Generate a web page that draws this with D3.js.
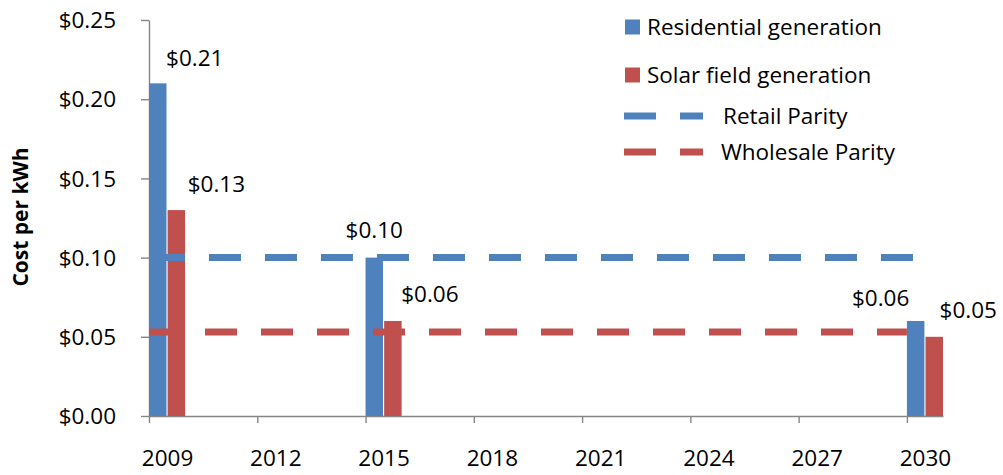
<!DOCTYPE html>
<html>
<head>
<meta charset="utf-8">
<script src="https://cdn.jsdelivr.net/npm/d3@7"></script>
<style>
  body { margin: 0; background: #fff; }
  text { font-family: "Open Sans", sans-serif; fill: #000; }
</style>
</head>
<body>
<script>
const width = 1003;
const height = 475;

// data
const years = [2009, 2015, 2030];
const residential = [0.21, 0.10, 0.06];
const solarField = [0.13, 0.06, 0.05];
const seriesNames = ["Residential generation", "Solar field generation"];
const parityNames = ["Retail Parity", "Wholesale Parity"];
const parityValues = [0.10, 0.053];
const parityStart = [2009.11, 2009];
const parityEnd = [2030.17, 2030];
const xTicks = [2009, 2012, 2015, 2018, 2021, 2024, 2027, 2030];
const yTicks = [0, 0.05, 0.1, 0.15, 0.2, 0.25];

const colors = ["#4F81BD", "#C0504D"];
const fontSize = "22.5px";
// hand placed data label nudges [dx, dy] relative to bar top center
const labelNudge = [
  [[37, -25], [40, -26]],
  [[0, -27], [37, -27]],
  [[-35, -23], [34, -27]]
];

const svg = d3.select("body").append("svg")
  .attr("width", width)
  .attr("height", height);

const x = d3.scaleLinear().domain([2009, 2031]).range([149, 943]);
const y = d3.scaleLinear().domain([0, 0.25]).range([416, 20]);
const yearW = x(2010) - x(2009);
const inner = d3.scaleBand().domain([0, 1]).range([0, yearW]).paddingInner(0.06);

// y axis
const yAxis = svg.append("g")
  .attr("transform", `translate(${x(2009)},0)`)
  .call(d3.axisLeft(y).tickValues(yTicks).tickSize(8).tickSizeOuter(0)
    .tickFormat(d => "$" + d.toFixed(2)));
yAxis.selectAll("text").style("font-size", fontSize).attr("x", -33).attr("dy", "0.34em");

// x axis
const xAxis = svg.append("g")
  .attr("transform", `translate(0,${y(0)})`)
  .call(d3.axisBottom(x).tickValues(xTicks).tickSize(7).tickSizeOuter(0)
    .tickFormat(d3.format("d")));
xAxis.selectAll("text").style("font-size", fontSize)
  .attr("x", yearW / 2).attr("y", 42).attr("dy", "0.34em");

svg.selectAll(".domain, .tick line").attr("stroke", "#868686").attr("stroke-width", 1.4);
svg.selectAll(".tick text").attr("fill", "#000");

svg.append("text")
  .attr("transform", `translate(21,217) rotate(-90)`)
  .attr("text-anchor", "middle")
  .attr("dy", "0.35em")
  .style("font-size", "21px")
  .style("font-weight", "bold")
  .text("Cost per kWh");

// bars
const barData = [];
years.forEach((yr, i) => {
  barData.push({ year: yr, s: 0, v: residential[i], i });
  barData.push({ year: yr, s: 1, v: solarField[i], i });
});

svg.append("g").selectAll("rect")
  .data(barData)
  .enter()
  .append("rect")
  .attr("x", d => x(d.year) + inner(d.s))
  .attr("width", inner.bandwidth())
  .attr("y", d => y(d.v))
  .attr("height", d => y(0) - y(d.v))
  .attr("fill", d => colors[d.s]);

// parity lines
svg.append("g").selectAll("line")
  .data(parityValues)
  .enter()
  .append("line")
  .attr("x1", (d, i) => x(parityStart[i]))
  .attr("x2", (d, i) => x(parityEnd[i]))
  .attr("y1", d => y(d))
  .attr("y2", d => y(d))
  .attr("stroke", (d, i) => colors[i])
  .attr("stroke-width", 7)
  .attr("stroke-dasharray", "32,24");

// data labels
svg.append("g").selectAll("text")
  .data(barData)
  .enter()
  .append("text")
  .attr("x", d => x(d.year) + inner(d.s) + inner.bandwidth() / 2 + labelNudge[d.i][d.s][0])
  .attr("y", d => y(d.v) + labelNudge[d.i][d.s][1])
  .attr("text-anchor", "middle")
  .attr("dy", "0.35em")
  .style("font-size", fontSize)
  .text(d => "$" + d.v.toFixed(2));

// legend
const legend = svg.append("g");
seriesNames.forEach((name, i) => {
  const cy = [27, 75][i];
  legend.append("rect")
    .attr("x", 625).attr("y", cy - 7.5)
    .attr("width", 15).attr("height", 15)
    .attr("fill", colors[i]);
  legend.append("text")
    .attr("x", 647).attr("y", cy).attr("dy", "0.35em")
    .style("font-size", fontSize)
    .text(name);
});
parityNames.forEach((name, i) => {
  const cy = [116, 152][i];
  legend.append("line")
    .attr("x1", 624).attr("x2", 703)
    .attr("y1", cy).attr("y2", cy)
    .attr("stroke", colors[i])
    .attr("stroke-width", 7)
    .attr("stroke-dasharray", "32,24");
  legend.append("text")
    .attr("x", [723, 721][i]).attr("y", cy).attr("dy", "0.35em")
    .style("font-size", fontSize)
    .text(name);
});
</script>
</body>
</html>
